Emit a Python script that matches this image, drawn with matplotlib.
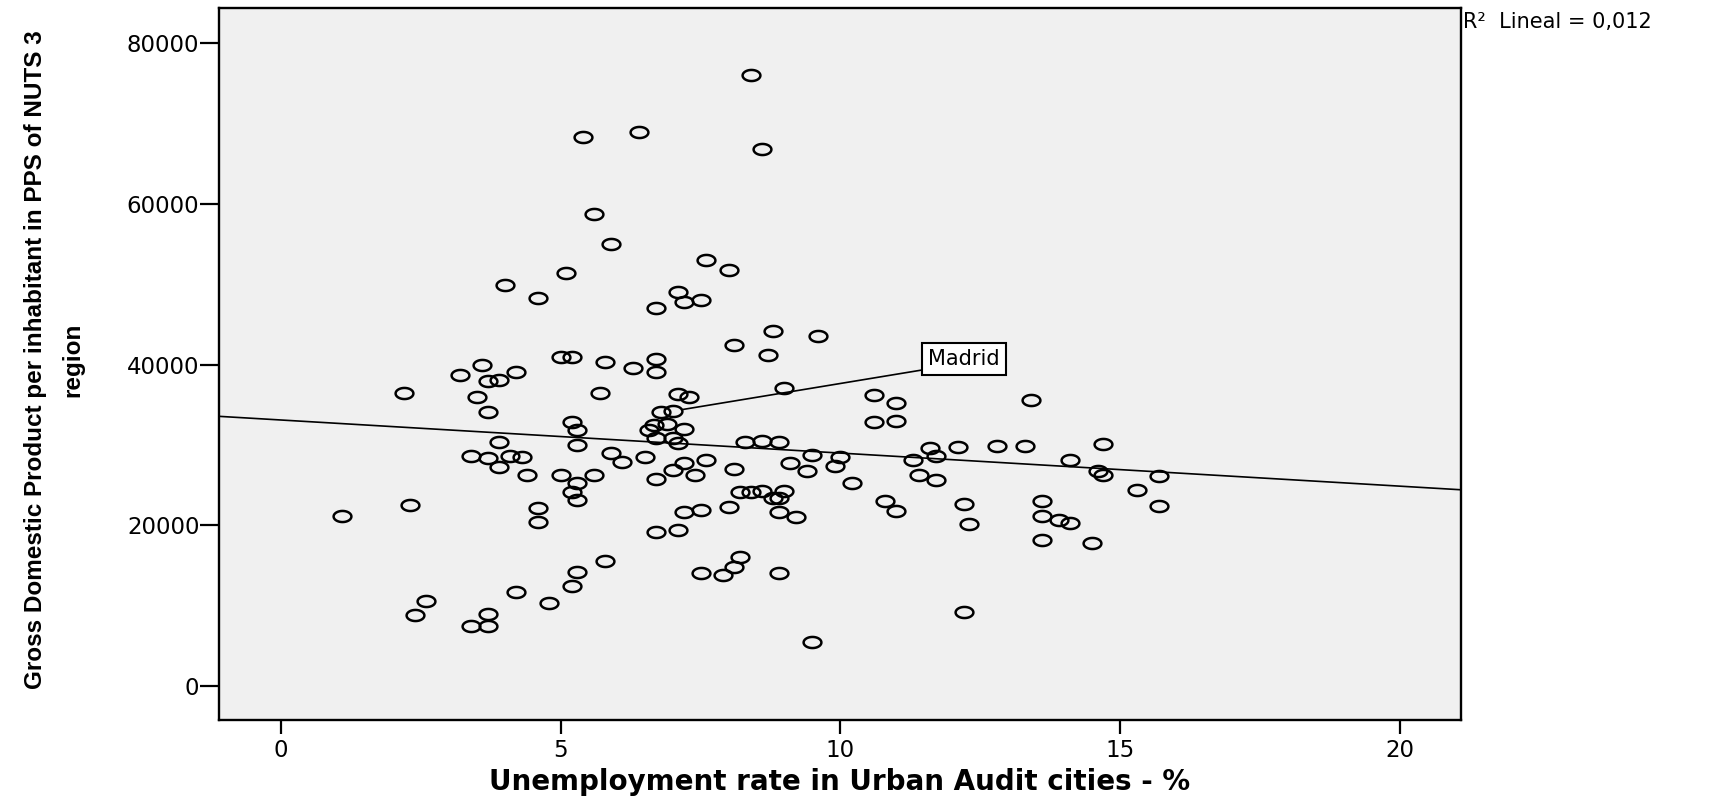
import numpy as np
import matplotlib
matplotlib.use("Agg")
import matplotlib.pyplot as plt
from matplotlib.path import Path

# Unemployment rate (%) and GDP per inhabitant (PPS) for Urban Audit cities
unemployment = [
    8.4, 5.4, 6.4, 8.6, 5.6, 5.9, 7.6, 8.0, 5.1, 4.0, 4.6, 7.1, 7.2, 7.5, 6.7,
    8.8, 9.6, 8.1, 8.7, 5.0, 5.2, 5.8, 6.3, 6.7, 6.7, 3.6, 3.2, 4.2, 3.7, 3.9,
    2.2, 3.5, 5.7, 7.1, 7.3, 9.0, 3.7, 6.8, 7.0, 5.2, 5.3, 5.3, 3.9, 6.67, 6.9,
    6.57, 7.2, 6.7, 7.0, 7.1, 8.3, 8.6, 8.9, 3.4, 3.7, 4.1, 4.3, 5.9, 6.1, 6.5,
    3.9, 7.2, 7.6, 7.0, 7.4, 8.1, 9.1, 9.5, 9.4, 4.4, 5.0, 5.6, 5.3, 6.7, 5.2,
    5.3, 8.2, 8.4, 8.6, 9.0, 8.8, 8.9, 1.1, 2.3, 4.6, 4.6, 7.2, 7.5, 8.0, 8.9,
    9.2, 6.7, 7.1, 5.8, 8.2, 8.1, 5.3, 7.5, 7.9, 8.9, 5.2, 4.2, 4.8, 2.6, 2.4,
    3.7, 3.4, 3.7, 9.5,
    10.6, 11.0, 13.4, 10.6, 11.0, 10.0, 9.9, 10.2, 11.6, 12.1, 12.8, 13.3, 14.7,
    11.3, 11.7, 11.4, 11.7, 14.1, 14.6, 14.7, 15.7, 15.3, 10.8, 11.0, 12.2, 12.3,
    13.6, 13.6, 13.9, 14.1, 13.6, 14.5, 15.7, 12.2,
]
gdp_pps = [
    76100, 68400, 69000, 66800, 58800, 55000, 53000, 51800, 51400, 49900, 48300,
    49000, 47800, 48100, 47000, 44200, 43600, 42500, 41200, 41000, 41000, 40300,
    39600, 40700, 39100, 39900, 38700, 39100, 37900, 38100, 36500, 36000, 36500,
    36400, 36000, 37100, 34100, 34100, 34200, 32900, 31900, 30000, 30300, 32500,
    32600, 31900, 32000, 30900, 30800, 30200, 30400, 30500, 30300, 28600, 28400,
    28600, 28500, 29000, 27900, 28500, 27300, 27800, 28100, 26900, 26200, 27000,
    27800, 28800, 26800, 26300, 26200, 26200, 25200, 25800, 24100, 23100, 24100,
    24100, 24300, 24200, 23350, 23350, 21200, 22500, 22200, 20400, 21600, 21900,
    22300, 21600, 21000, 19100, 19400, 15600, 16100, 14800, 14200, 14100, 13800,
    14100, 12400, 11700, 10300, 10600, 8800, 8900, 7500, 7400, 5500,
    36200, 35200, 35600, 32800, 33000, 28500, 27400, 25300, 29650, 29700, 29900,
    29900, 30100, 28100, 28600, 26200, 25600, 28100, 26750, 26200, 26100, 24400,
    23000, 21800, 22600, 20200, 23000, 21100, 20700, 20300, 18200, 17800, 22400,
    9200,
]
madrid = (7.0, 34200)
madrid_label = "Madrid"
r2_label = "R\u00b2  Lineal = 0,012"

x_ticks = [0, 5, 10, 15, 20]
y_ticks = [0, 20000, 40000, 60000, 80000]
x_title = "Unemployment rate in Urban Audit cities - %"
y_title = "Gross Domestic Product per inhabitant in PPS of NUTS 3\nregion"

x = np.array(unemployment, dtype=float)
y = np.array(gdp_pps, dtype=float)

fig = plt.figure(figsize=(17.09, 7.97), dpi=100)
fig.patch.set_facecolor("white")
ax = fig.add_axes([0.1281, 0.0960, 0.7266, 0.8945])
ax.set_facecolor("#f0f0f0")

xlim = (-1.108, 21.085)
ax.set_xlim(*xlim)
ax.set_ylim(-4320, 84460)

# Least-squares fit line across the full axis width
slope, intercept = np.polyfit(x, y, 1)
xs = np.array(xlim)
ax.plot(xs, intercept + slope * xs, color="black", lw=1.2, zorder=2)

# Open elliptical markers
t = np.linspace(0, 2 * np.pi, 60)
ellipse = Path(np.column_stack([1.6 * np.cos(t), np.sin(t)]), closed=True)
ax.plot(x, y, linestyle="none", marker=ellipse, markersize=12.8,
        markerfacecolor="none", markeredgecolor="black", markeredgewidth=1.8,
        zorder=3)

ax.annotate(madrid_label, xy=madrid, xytext=(12.21, 40700),
            ha="center", va="center", fontsize=15, family="DejaVu Sans",
            bbox=dict(boxstyle="square,pad=0.3", fc="white", ec="black", lw=1.5),
            arrowprops=dict(arrowstyle="-", color="black", lw=1.2,
                            relpos=(0, 0), shrinkA=0, shrinkB=7),
            zorder=4)

ax.set_xticks(x_ticks)
ax.set_yticks(y_ticks)
ax.set_xticklabels([str(v) for v in x_ticks])
ax.set_yticklabels([str(v) for v in y_ticks])
ax.tick_params(axis="both", direction="out", width=1.6,
               labelsize=16.5, color="black")
ax.tick_params(axis="y", length=13.5, pad=0.5)
ax.tick_params(axis="x", length=10, pad=3)
for spine in ax.spines.values():
    spine.set_linewidth(1.7)
    spine.set_color("black")

ax.set_xlabel(x_title, fontsize=20, fontweight="bold", family="DejaVu Sans",
              va="baseline")
ax.xaxis.set_label_coords(0.5, -0.0975)
ax.set_ylabel(y_title, fontsize=17.5, fontweight="bold",
              family=["Liberation Sans", "DejaVu Sans"], linespacing=1.8)
ax.yaxis.set_label_coords(-0.108, 0.506)

fig.text(1463 / 1709, 1 - 22.5 / 797, r2_label, ha="left", va="center",
         fontsize=15, family="DejaVu Sans")

fig.savefig("out.png", dpi=100, facecolor="white")
